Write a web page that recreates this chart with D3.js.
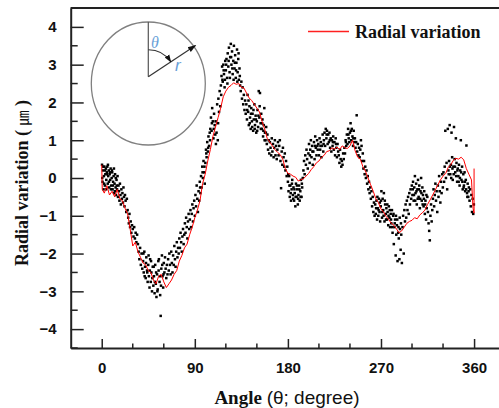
<!DOCTYPE html>
<html>
<head>
<meta charset="utf-8">
<script src="https://cdn.jsdelivr.net/npm/d3@7"></script>
<style>
  body { margin: 0; background: #fff; }
  svg { display: block; }
</style>
</head>
<body>
<script>
// Red curve: angle (degree) and radial variation (um)
var lineAngle = [0, 0.5, 2.5, 5, 7.5, 10, 12.5, 15, 17.5, 20, 22.5, 25, 27.5, 30, 32.5, 35, 37.5, 40, 42.5, 45,
  47.5, 50, 52.5, 55, 57.5, 60, 62.5, 65, 67.5, 70, 72.5, 75, 77.5, 80, 82.5, 85, 87.5, 90, 92.5, 95,
  97.5, 100, 102.5, 105, 107.5, 110, 112.5, 115, 117.5, 120, 122.5, 125, 127.5, 130, 132.5, 135, 137.5, 140, 142.5, 145,
  147.5, 150, 152.5, 155, 157.5, 160, 162.5, 165, 167.5, 170, 172.5, 175, 177.5, 180, 182.5, 185, 187.5, 190, 192.5, 195,
  197.5, 200, 202.5, 205, 207.5, 210, 212.5, 215, 217.5, 220, 222.5, 225, 227.5, 230, 232.5, 235, 237.5, 240, 242.5, 245,
  247.5, 250, 252.5, 255, 257.5, 260, 262.5, 265, 267.5, 270, 272.5, 275, 277.5, 280, 282.5, 285, 287.5, 290, 292.5, 295,
  297.5, 300, 302.5, 305, 307.5, 310, 312.5, 315, 317.5, 320, 322.5, 325, 327.5, 330, 332.5, 335, 337.5, 340, 342.5, 345,
  347.5, 350, 352.5, 355, 357.5, 359, 360, 360];
var lineValue = [0.35, -0.30, -0.40, -0.20, -0.45, -0.35, -0.50, -0.30, -0.55, -0.60, -0.80, -0.95, -1.35, -1.80, -1.70, -1.95, -2.10, -2.25, -2.30, -2.45,
  -2.50, -2.70, -2.80, -2.60, -2.55, -2.75, -2.90, -2.80, -2.70, -2.55, -2.45, -2.20, -2.05, -1.85, -1.75, -1.50, -1.30, -1.05, -0.85, -0.60,
  -0.15, 0.10, 0.45, 0.75, 1.10, 1.35, 1.60, 1.85, 2.15, 2.30, 2.40, 2.45, 2.52, 2.48, 2.50, 2.40, 2.38, 2.25, 2.12, 2.05,
  1.95, 1.85, 1.75, 1.50, 1.30, 1.05, 0.95, 0.85, 0.75, 0.68, 0.62, 0.50, 0.25, 0.12, 0.10, 0.05, 0.02, -0.08, -0.05, -0.02,
  0.05, 0.12, 0.22, 0.30, 0.40, 0.45, 0.55, 0.60, 0.70, 0.72, 0.80, 0.76, 0.82, 0.75, 0.85, 0.80, 0.78, 0.85, 1.00, 0.72,
  0.55, 0.50, 0.30, 0.18, 0.00, -0.18, -0.35, -0.55, -0.65, -0.82, -0.90, -1.02, -1.10, -1.20, -1.25, -1.35, -1.45, -1.40, -1.30, -1.20,
  -1.15, -1.12, -1.05, -1.08, -0.98, -0.92, -0.85, -0.70, -0.58, -0.45, -0.32, -0.18, -0.05, 0.05, 0.12, 0.28, 0.35, 0.47, 0.52, 0.50,
  0.55, 0.48, 0.25, 0.10, -0.05, -0.80, -0.93, 0.25];

// Measured points: [angle, radial variation]
var dots = [
  [0.3,0.35],[0.8,-0.1],[1.2,0.2],[1.7,-0.3],[2.1,0.05],[2.6,0.3],[3.0,-0.2],[3.5,0.1],[4.0,0.25],[4.4,-0.05],[4.9,0.15],
  [5.4,0.3],[5.8,-0.15],[6.3,0.05],[6.8,0.2],[7.2,-0.25],[7.7,0.1],[8.2,-0.05],[8.6,0.25],[9.1,-0.2],[9.6,0.0],
  [10.1,0.15],[10.5,-0.3],[11.0,-0.1],[11.5,0.05],[12.0,-0.4],[12.4,-0.15],[12.9,0.1],[13.4,-0.25],[13.8,-0.45],[14.3,-0.05],
  [14.8,-0.3],[15.3,0.05],[15.7,-0.5],[16.2,-0.2],[16.7,-0.35],[17.1,-0.6],[17.6,-0.15],[18.1,-0.45],[18.5,-0.7],[19.0,-0.3],[19.5,-0.55],
  [20.0,-0.4],[20.5,-0.65],[21.0,-0.25],[21.5,-0.5],[22.0,-0.75],[22.5,-0.45],[23.1,-0.6],[23.7,-0.9],[24.3,-0.55],
  [25.0,-0.85],[25.6,-1.05],[26.2,-1.2],[26.8,-0.95],[27.4,-1.3],[28.0,-1.15],[28.6,-1.45],[29.3,-1.25],
  [30.0,-1.35],[30.7,-1.55],[31.4,-1.3],[32.1,-1.6],[32.8,-1.45],[33.5,-1.7],[34.2,-1.5],
  [35.0,-1.75],[35.7,-1.95],[36.4,-2.15],[37.1,-1.85],[37.8,-2.3],[38.5,-2.0],[39.2,-2.4],
  [40.0,-2.2],[40.6,-2.5],[41.2,-1.95],[41.9,-2.35],[42.5,-2.65],[43.1,-2.1],[43.8,-2.45],[44.4,-2.75],
  [45.0,-2.3],[45.6,-2.6],[46.2,-2.9],[46.8,-2.15],[47.4,-2.75],[48.0,-2.5],[48.6,-3.0],[49.3,-2.35],[49.9,-2.85],
  [50.5,-2.6],[51.1,-3.05],[51.7,-2.3],[52.3,-2.8],[52.9,-3.15],[53.5,-2.55],[54.1,-2.95],[54.7,-2.2],
  [55.3,-2.15],[55.9,-2.75],[56.5,-3.1],[57.0,-3.65],[57.6,-2.4],[58.2,-2.05],[58.8,-2.6],[59.4,-2.9],
  [60.0,-2.25],[60.6,-2.5],[61.2,-2.1],[61.8,-2.4],[62.4,-2.65],[63.0,-2.3],[63.6,-2.55],[64.2,-2.15],
  [64.8,-2.45],[65.4,-2.0],[66.0,-2.3],[66.6,-2.55],[67.2,-1.95],[67.8,-2.25],[68.4,-2.5],[69.0,-2.05],[69.6,-2.3],
  [70.2,-1.8],[70.8,-2.15],[71.4,-2.35],[72.0,-1.95],[72.6,-1.7],[73.2,-2.1],[73.8,-1.85],[74.4,-2.0],
  [75.0,-1.6],[75.6,-1.85],[76.2,-1.45],[76.8,-1.7],[77.4,-1.95],[78.0,-1.55],[78.6,-1.35],[79.2,-1.75],
  [79.8,-1.5],[80.4,-1.2],[81.0,-1.45],[81.6,-1.05],[82.2,-1.3],[82.8,-1.6],[83.4,-1.15],[84.0,-0.95],[84.6,-1.35],
  [85.2,-1.1],[85.8,-0.85],[86.4,-1.3],[87.0,-0.95],[87.6,-0.7],[88.2,-1.15],[88.8,-0.8],[89.4,-0.6],[90.0,-1.0],
  [90.6,-0.45],[91.2,-0.75],[91.8,-0.2],[92.4,-0.55],[93.0,-0.9],[93.6,-0.35],[94.2,-0.6],
  [94.8,-0.1],[95.4,-0.4],[96.0,0.05],[96.6,-0.25],[97.2,0.3],[97.8,0.0],[98.4,0.45],[99.0,0.15],[99.6,-0.15],
  [100.2,0.4],[100.8,0.75],[101.4,0.55],[102.0,0.95],[102.6,0.7],[103.2,1.1],[103.8,0.85],[104.4,1.2],
  [105.0,1.3],[105.6,1.6],[106.2,1.25],[106.8,1.85],[107.4,1.5],[108.0,1.05],[108.6,1.7],[109.2,1.4],
  [109.8,1.15],[110.4,0.9],[111.0,1.2],[111.6,1.95],[112.2,1.0],[112.8,2.1],[113.4,1.75],[114.0,2.3],[114.6,1.9],
  [115.2,2.45],[115.8,2.7],[116.4,2.95],[117.0,2.55],[117.6,3.0],[118.2,2.75],[118.8,2.4],[119.4,3.1],
  [120.0,2.85],[120.6,3.15],[121.2,2.65],[121.8,3.3],[122.4,2.95],[123.0,3.45],[123.6,2.8],[124.2,3.2],
  [124.8,3.55],[125.4,3.0],[126.0,3.35],[126.6,2.75],[127.2,3.1],[127.8,3.5],[128.4,2.9],[129.0,3.25],
  [129.6,2.65],[130.2,3.05],[130.8,3.4],[131.4,2.8],[132.0,3.15],[132.6,2.6],[133.2,2.9],[133.8,2.45],
  [134.4,2.3],[135.0,2.55],[135.6,2.1],[136.2,2.4],[136.8,1.95],[137.4,2.2],[138.0,1.8],[138.6,2.05],[139.2,1.7],
  [139.8,1.95],[140.4,1.55],[141.0,2.2],[141.6,1.75],[142.2,1.4],[142.8,1.9],[143.4,1.6],[144.0,1.3],
  [144.6,1.85],[145.2,1.5],[145.8,1.7],[146.4,1.25],[147.0,1.55],[147.6,1.95],[148.2,1.4],[148.8,1.65],[149.4,1.2],
  [150.0,1.5],[150.6,1.8],[151.2,1.35],[151.8,2.3],[152.4,1.6],[153.0,2.25],[153.6,1.45],[154.2,1.7],
  [154.8,1.3],[155.4,1.55],[156.0,1.1],[156.6,1.4],[157.2,1.85],[157.8,1.2],[158.4,1.0],[159.0,1.35],
  [159.6,0.9],[160.2,1.15],[160.8,0.75],[161.4,1.0],[162.0,0.65],[162.6,0.95],[163.2,0.8],[163.8,0.6],[164.4,1.05],
  [165.0,0.7],[165.6,0.9],[166.2,0.55],[166.8,0.8],[167.4,1.0],[168.0,0.6],[168.6,0.85],[169.2,0.5],
  [169.8,0.75],[170.4,0.95],[171.0,0.6],[171.6,0.85],[172.2,1.0],[172.8,0.45],[173.4,-0.27],[174.0,0.7],[174.6,0.35],
  [175.2,0.8],[175.8,0.55],[176.4,0.3],[177.0,0.65],[177.6,0.2],[178.2,0.45],[178.8,0.05],[179.4,0.3],
  [180.0,-0.1],[180.6,-0.35],[181.2,0.05],[181.8,-0.5],[182.4,-0.2],[183.0,-0.6],[183.6,-0.3],[184.2,-0.05],[184.8,-0.45],
  [185.4,-0.25],[186.0,-0.6],[186.6,-0.4],[187.2,-0.75],[187.8,-0.15],[188.4,-0.5],[189.0,-0.3],[189.6,-0.7],
  [190.2,-0.45],[190.8,-0.2],[191.4,-0.6],[192.0,-0.35],[192.6,-0.05],[193.2,-0.5],[193.8,-0.25],[194.4,0.0],
  [195.0,0.2],[195.6,0.45],[196.2,0.1],[196.8,0.6],[197.4,0.35],[198.0,0.75],[198.6,0.5],[199.2,0.25],
  [199.8,0.65],[200.4,0.9],[201.0,0.4],[201.6,0.75],[202.2,1.0],[202.8,0.55],[203.4,0.85],[204.0,0.35],
  [204.6,0.7],[205.2,0.95],[205.8,0.5],[206.4,1.1],[207.0,0.8],[207.6,0.6],[208.2,1.0],[208.8,0.75],
  [209.4,0.9],[210.0,0.6],[210.6,1.05],[211.2,0.75],[211.8,0.95],[212.4,0.55],[213.0,0.85],[213.6,1.15],
  [214.2,0.7],[214.8,1.0],[215.4,1.2],[216.0,0.85],[216.6,1.3],[217.2,1.05],[217.8,1.25],[218.4,0.9],[219.0,1.15],
  [219.6,0.95],[220.2,1.2],[220.8,0.8],[221.4,1.05],[222.0,0.7],[222.6,1.0],[223.2,0.85],[223.8,1.1],
  [224.4,0.75],[225.0,0.95],[225.6,0.6],[226.2,1.05],[226.8,0.8],[227.4,0.55],[228.0,0.9],[228.6,0.7],
  [229.2,0.6],[229.8,0.4],[230.4,0.75],[231.0,0.5],[231.6,0.3],[232.2,0.45],[232.8,0.35],[233.4,0.65],[234.0,0.5],
  [234.6,0.8],[235.2,0.65],[235.8,1.0],[236.4,0.85],[237.0,1.15],[237.6,0.9],[238.2,1.3],[238.8,1.05],[239.4,0.95],
  [240.0,1.2],[240.6,1.45],[241.2,1.0],[241.8,1.3],[242.4,1.1],[243.0,0.85],[243.6,1.25],[244.2,0.95],
  [244.8,1.05],[245.4,0.8],[246.0,0.95],[246.5,1.66],[247.0,0.7],[247.6,0.9],[248.2,0.6],[248.8,0.8],[249.4,0.55],
  [250.0,0.75],[250.6,1.0],[251.2,0.85],[251.8,0.45],[252.4,0.65],[253.0,0.25],[253.6,0.45],[254.2,0.1],
  [254.8,0.3],[255.4,0.0],[256.0,0.2],[256.6,-0.15],[257.2,0.05],[257.8,-0.3],[258.4,-0.1],[259.0,-0.4],
  [259.6,-0.25],[260.2,-0.55],[260.8,-0.35],[261.4,-0.75],[262.0,-0.5],[262.6,-0.9],[263.2,-0.65],[263.8,-1.0],
  [264.4,-0.7],[265.0,-0.95],[265.6,-0.6],[266.2,-1.1],[266.8,-0.8],[267.4,-1.0],[268.0,-0.55],[268.6,-0.9],[269.2,-1.15],
  [269.8,-0.75],[270.4,-0.35],[271.0,-1.05],[271.6,-0.55],[272.2,-0.85],[272.8,-0.4],[273.4,-1.15],[274.0,-0.7],[274.6,-0.95],
  [275.2,-0.8],[275.8,-1.1],[276.4,-0.9],[277.0,-1.25],[277.6,-0.75],[278.2,-1.05],[278.8,-1.3],[279.4,-0.95],
  [280.0,-1.2],[280.6,-0.85],[281.2,-1.45],[281.8,-1.0],[282.4,-1.75],[283.0,-1.3],[283.6,-1.1],[284.2,-2.05],[284.8,-1.5],
  [285.4,-1.25],[286.0,-2.2],[286.6,-1.45],[287.2,-1.6],[287.8,-2.15],[288.4,-1.35],[289.0,-1.9],[289.6,-1.5],[290.2,-2.25],
  [290.8,-1.3],[291.4,-1.0],[292.0,-2.0],[292.6,-0.85],[293.2,-1.15],[293.8,-0.7],[294.4,-1.05],[295.0,-0.6],
  [295.6,-0.85],[296.2,-0.5],[296.8,-0.95],[297.4,-0.4],[298.0,-0.7],[298.6,-0.3],[299.2,-0.55],[299.8,-0.2],
  [300.4,-0.45],[301.0,-0.1],[301.6,-0.6],[302.2,-0.25],[302.8,0.05],[303.4,-0.4],[304.0,-0.15],[304.6,-0.7],[305.2,-0.3],
  [305.8,-0.05],[306.4,-0.5],[307.0,-0.2],[307.6,-0.8],[308.2,-0.35],[308.8,0.0],[309.4,-0.6],[310.0,-0.25],
  [310.6,-0.45],[311.2,-0.75],[311.8,-0.35],[312.4,-0.95],[313.0,-0.6],[313.6,-1.1],[314.2,-0.8],[314.8,-0.5],
  [315.4,-0.9],[316.0,-1.2],[316.6,-1.4],[317.2,-1.65],[317.8,-1.0],[318.4,-0.7],[319.0,-1.15],[319.6,-0.85],
  [320.2,-0.55],[320.8,-0.3],[321.4,-0.75],[322.0,-0.45],[322.6,-0.15],[323.2,-0.6],[323.8,-0.35],[324.4,-0.9],
  [325.0,-0.2],[325.6,-0.5],[326.2,0.05],[326.8,-0.35],[327.4,-0.65],[328.0,-0.1],[328.6,-0.4],[329.2,0.1],
  [329.8,-0.25],[330.4,0.15],[331.0,-0.1],[331.6,0.3],[332.2,1.25],[332.8,0.0],[333.4,0.4],[334.0,-0.3],[334.6,1.3],
  [335.2,0.2],[335.8,0.45],[336.4,1.4],[337.0,0.1],[337.6,0.35],[338.2,1.2],[338.8,0.55],[339.4,-0.05],
  [340.0,0.3],[340.6,1.35],[341.2,0.5],[341.8,0.15],[342.4,1.05],[343.0,0.4],[343.6,-0.1],[344.2,0.25],
  [344.8,0.05],[345.4,0.35],[346.0,-0.2],[346.6,0.2],[347.2,1.0],[347.8,-0.05],[348.4,0.3],[349.0,-0.3],
  [349.6,0.1],[350.2,-0.2],[350.8,0.15],[351.4,-0.35],[352.0,-0.05],[352.6,0.86],[353.2,-0.4],[353.8,-0.15],
  [354.4,-0.5],[355.0,-0.25],[355.6,-0.6],[356.2,-0.3],[356.8,-0.75],[357.4,-0.45],[358.0,-0.9],[358.6,-0.55],[359.2,-0.95],[359.8,-0.7]
];

// Extra points in the denser parts of the cloud
var dotsDense = [
  [0.5,0.0],[1.5,0.3],[2.4,-0.15],[3.3,0.2],[4.2,-0.3],[5.1,0.1],[6.0,0.35],[7.0,-0.1],[7.9,0.15],[8.9,-0.3],[9.9,0.2],
  [10.8,-0.2],[11.8,0.25],[12.7,-0.35],[13.6,0.0],[14.5,-0.2],
  [40.3,-2.0],[41.5,-2.6],[42.8,-2.25],[44.0,-2.5],[45.3,-2.05],[46.5,-2.45],[47.7,-2.2],[48.9,-2.65],[50.2,-2.35],
  [51.4,-2.75],[52.6,-2.5],[53.8,-3.0],[55.0,-2.45],[56.2,-2.6],[57.3,-2.85],[58.5,-2.3],[59.7,-2.55],
  [95.1,-0.25],[97.5,0.15],[99.3,0.3],[101.1,0.65],[102.9,0.8],[104.7,1.0],[106.5,1.45],[108.3,1.3],[110.1,1.5],[112.5,1.45],
  [115.5,2.2],[116.7,2.6],[117.9,2.85],[119.1,2.6],[120.3,3.0],[121.5,2.5],[122.7,3.1],[123.9,2.65],[125.1,3.2],
  [126.3,2.9],[127.5,2.6],[128.7,3.05],[129.9,2.85],[131.1,2.55],[132.3,3.3],[133.5,2.7],
  [140.7,1.8],[141.9,2.05],[143.1,1.45],[144.3,1.7],[145.5,1.35],[146.7,1.8],[147.9,1.3],[149.1,1.55],[150.3,1.25],
  [151.5,1.65],[152.7,1.9],[153.9,1.3],[155.1,1.45],[156.3,1.25],[157.5,1.0],[158.7,1.2],
  [180.3,0.1],[181.5,-0.2],[182.7,-0.4],[183.9,-0.15],[185.1,-0.55],[186.3,-0.3],[187.5,-0.5],[188.7,-0.2],[189.9,-0.55],
  [191.1,-0.3],[192.3,-0.5],[193.5,-0.15],
  [201.3,0.6],[203.7,0.7],[206.1,0.85],[208.5,0.85],[211.5,0.85],[214.5,0.9],[217.5,1.15],[220.5,1.0],[223.5,0.95],
  [226.5,0.9],[236.1,0.95],[238.5,1.15],[240.9,1.25],[243.3,1.05],
  [265.3,-0.8],[266.5,-0.5],[267.7,-0.85],[268.9,-0.65],[270.1,-0.6],[271.3,-0.9],[272.5,-1.0],[273.7,-0.6],[274.9,-1.1],
  [276.1,-0.7],[277.3,-1.0],[278.5,-0.85],[279.7,-1.1],[280.9,-1.3],[282.1,-0.95],[283.3,-1.2],[284.5,-1.0],[285.7,-1.1],
  [286.9,-1.3],[288.1,-1.05],[289.3,-1.2],
  [300.7,-0.3],[301.9,-0.45],[303.1,-0.6],[304.3,-0.35],[305.5,-0.55],[306.7,-0.3],[307.9,-0.55],[309.1,-0.4],[310.3,-0.7],
  [311.5,-0.55],[312.7,-0.7],[313.9,-0.45],
  [335.5,0.1],[336.7,0.3],[337.9,0.0],[339.1,0.25],[340.3,0.1],[341.5,0.3],[342.7,0.05],[343.9,0.2],[345.1,-0.1],
  [346.3,0.0],[347.5,0.15],[348.7,-0.1],[349.9,-0.25],[351.1,-0.1],[352.3,-0.3],[353.5,-0.5],[354.7,-0.35]
];

var xTicks = [0, 90, 180, 270, 360];
var yTicks = [-4, -3, -2, -1, 0, 1, 2, 3, 4];

var W = 499, H = 408;

// Scales
var x = d3.scaleLinear().domain([-30, 390]).range([70.7, 505.1]);
var y = d3.scaleLinear().domain([-4.5, 4.5]).range([348, 8]);

var svg = d3.select('body')
    .append('svg')
    .attr('width', W)
    .attr('height', H);

// Top border of the frame
svg.append('line')
    .attr('x1', x(-30)).attr('x2', W)
    .attr('y1', y(4.5)).attr('y2', y(4.5))
    .attr('stroke', '#222').attr('stroke-width', 2);

// Minor ticks
var xMinor = d3.range(0, 391, 30).filter(function(d) { return d % 90 !== 0; });
var yMinor = d3.range(-4.5, 4.6, 1);

svg.selectAll('.xminor').data(xMinor).enter().append('line')
    .attr('x1', function(d) { return x(d); }).attr('x2', function(d) { return x(d); })
    .attr('y1', y(-4.5)).attr('y2', y(-4.5) - 4.5)
    .attr('stroke', '#222').attr('stroke-width', 1.5);
svg.selectAll('.yminor').data(yMinor).enter().append('line')
    .attr('x1', x(-30)).attr('x2', x(-30) + 7)
    .attr('y1', function(d) { return y(d); }).attr('y2', function(d) { return y(d); })
    .attr('stroke', '#222').attr('stroke-width', 1.5);

// Axes with inward ticks
var xAxis = d3.axisBottom(x).tickValues(xTicks).tickSizeInner(-9).tickSizeOuter(0).tickPadding(14);
var yAxis = d3.axisLeft(y).tickValues(yTicks).tickSizeInner(-13).tickSizeOuter(0).tickPadding(14);

var gx = svg.append('g')
    .attr('transform', 'translate(0,' + y(-4.5) + ')')
    .call(xAxis);
var gy = svg.append('g')
    .attr('transform', 'translate(' + x(-30) + ',0)')
    .call(yAxis);

[gx, gy].forEach(function(g) {
    g.select('.domain').attr('stroke', '#222').attr('stroke-width', 2);
    g.selectAll('.tick line').attr('stroke', '#222').attr('stroke-width', 1.5);
    g.selectAll('.tick text')
        .attr('fill', '#111')
        .style('font-family', '"Liberation Sans", Arial, sans-serif')
        .style('font-weight', 'bold')
        .style('font-size', '15px');
});
gx.selectAll('.tick text').attr('dy', '0.71em');
gy.selectAll('.tick text').attr('x', -14);

// Points
svg.append('g').selectAll('rect').data(dots.concat(dotsDense)).enter().append('rect')
    .attr('x', function(d) { return x(d[0]) - 1.25; })
    .attr('y', function(d) { return y(d[1]) - 1.25; })
    .attr('width', 2.5)
    .attr('height', 2.5)
    .attr('fill', '#000');

// Red curve
var linePts = lineAngle.map(function(a, i) { return [a, lineValue[i]]; });
var line = d3.line()
    .x(function(d) { return x(d[0]); })
    .y(function(d) { return y(d[1]); });
svg.append('path')
    .datum(linePts)
    .attr('fill', 'none')
    .attr('stroke', '#ff0000')
    .attr('stroke-width', 1)
    .attr('d', line);

// Legend
svg.append('line')
    .attr('x1', 308).attr('x2', 349)
    .attr('y1', 31.5).attr('y2', 31.5)
    .attr('stroke', '#ff2020').attr('stroke-width', 1.3);
svg.append('text')
    .attr('x', 355).attr('y', 38)
    .style('font-family', '"Liberation Serif", "Times New Roman", serif')
    .style('font-weight', 'bold')
    .style('font-size', '18px')
    .attr('fill', '#111')
    .text('Radial variation');

// Axis titles
var xt = svg.append('text')
    .attr('x', 287).attr('y', 404)
    .attr('text-anchor', 'middle')
    .attr('fill', '#111')
    .style('font-size', '19px');
xt.append('tspan')
    .style('font-family', '"Liberation Serif", "Times New Roman", serif')
    .style('font-weight', 'bold')
    .text('Angle ');
xt.append('tspan')
    .style('font-family', '"Liberation Sans", Arial, sans-serif')
    .text('(\u03b8; degree)');

var yt = svg.append('text')
    .attr('transform', 'translate(28,183) rotate(-90)')
    .attr('text-anchor', 'middle')
    .attr('fill', '#111')
    .style('font-size', '18px');
yt.append('tspan')
    .style('font-family', '"Liberation Serif", "Times New Roman", serif')
    .style('font-weight', 'bold')
    .text('Radial variation ( ');
yt.append('tspan')
    .style('font-family', '"Noto Sans CJK JP", sans-serif')
    .style('font-size', '15px')
    .text('\u339b');
yt.append('tspan')
    .style('font-family', '"Liberation Serif", "Times New Roman", serif')
    .style('font-weight', 'bold')
    .text(' )');

// Inset sketch: circle with radius r at angle theta
var cx = 148.3, cy = 83.5, rx = 57, ry = 61.5;
var ox = 148.3, oy = 76.7;
var inset = svg.append('g');
var defs = svg.append('defs');
defs.append('marker')
    .attr('id', 'arr')
    .attr('viewBox', '0 0 10 10')
    .attr('refX', 9).attr('refY', 5)
    .attr('markerWidth', 7).attr('markerHeight', 7)
    .attr('orient', 'auto')
    .append('path').attr('d', 'M0,1.5 L10,5 L0,8.5 Z').attr('fill', '#111');

inset.append('ellipse')
    .attr('cx', cx).attr('cy', cy).attr('rx', rx).attr('ry', ry)
    .attr('fill', 'none').attr('stroke', '#808080').attr('stroke-width', 1.3);
inset.append('line')
    .attr('x1', ox).attr('y1', cy - ry).attr('x2', ox).attr('y2', oy)
    .attr('stroke', '#555').attr('stroke-width', 1.2);
inset.append('line')
    .attr('x1', ox).attr('y1', oy).attr('x2', 195.5).attr('y2', 45.5)
    .attr('stroke', '#333').attr('stroke-width', 1.2)
    .attr('marker-end', 'url(#arr)');
var ar = 27;
var a1 = Math.atan2(45.5 - oy, 195.5 - ox);
inset.append('path')
    .attr('d', 'M' + ox + ',' + (oy - ar) + ' A' + ar + ',' + ar + ' 0 0 1 ' +
        (ox + ar * Math.cos(a1)) + ',' + (oy + ar * Math.sin(a1)))
    .attr('fill', 'none').attr('stroke', '#333').attr('stroke-width', 1.1)
    .attr('marker-end', 'url(#arr)');
inset.append('text')
    .attr('x', 151).attr('y', 48)
    .attr('fill', '#6a9fd8')
    .style('font-family', '"Liberation Serif", serif')
    .style('font-style', 'italic')
    .style('font-size', '16px')
    .text('\u03b8');
inset.append('text')
    .attr('x', 175).attr('y', 71)
    .attr('fill', '#6a9fd8')
    .style('font-family', '"Liberation Sans", sans-serif')
    .style('font-style', 'italic')
    .style('font-size', '17px')
    .text('r');
</script>
</body>
</html>
